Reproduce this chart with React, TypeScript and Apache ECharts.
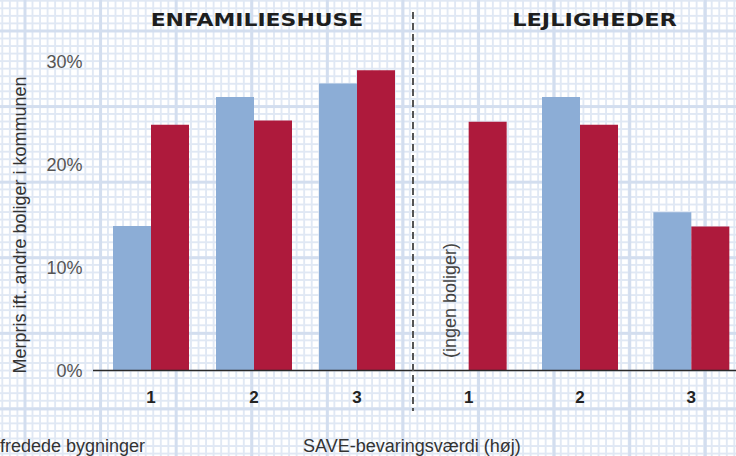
import React, { useEffect, useRef } from "react";
import * as echarts from "echarts";

const categories = ["1", "2", "3"];
const panelTitles = ["ENFAMILIESHUSE", "LEJLIGHEDER"];
const seriesNames = ["fredede bygninger", "SAVE-bevaringsværdi (høj)"];
const yTicks = [0, 10, 20, 30];
const yAxisTitle = "Merpris ift. andre boliger i kommunen";
const noHomesNote = "(ingen boliger)";

// values in percent
const houseProtected = [14.05, 26.6, 27.9];
const houseSave = [23.9, 24.3, 29.2];
const aptProtected: (number | null)[] = [null, 26.6, 15.4];
const aptSave = [24.2, 23.9, 14.0];

const BLUE = "#8cadd6";
const RED = "#ae1a3c";
const FONT = "'Liberation Sans', Arial, sans-serif";

export default function App() {
  const ref = useRef<HTMLDivElement>(null);

  useEffect(() => {
    if (!ref.current) return;
    const chart = echarts.init(ref.current, null, { renderer: "svg" });

    const yMin = yTicks[0];
    const yMax = yTicks[yTicks.length - 1];
    const gridTop = 62;
    const gridBottom = 85.5;

    const xAxisBase = {
      type: "category" as const,
      data: categories,
      axisLine: { show: false },
      axisTick: { show: false },
      axisLabel: {
        margin: 18,
        fontFamily: FONT,
        fontWeight: "bold" as const,
        fontSize: 17,
        color: "#222",
      },
      splitLine: { show: false },
    };

    const option: any = {
      animation: false,
      backgroundColor: "transparent",
      grid: [
        {
          left: 99.5,
          width: 309,
          top: gridTop,
          bottom: gridBottom,
          containLabel: false,
          outerBoundsMode: "none",
        },
        {
          left: 413,
          width: 334,
          top: gridTop,
          bottom: gridBottom,
          containLabel: false,
          outerBoundsMode: "none",
        },
      ],
      xAxis: [
        { ...xAxisBase, gridIndex: 0 },
        { ...xAxisBase, gridIndex: 1 },
      ],
      yAxis: [
        {
          type: "value",
          gridIndex: 0,
          min: yMin,
          max: yMax,
          interval: 10,
          axisLine: { show: false },
          axisTick: { show: false },
          splitLine: { show: false },
          axisLabel: {
            formatter: "{value}%",
            margin: 17,
            fontFamily: FONT,
            fontSize: 18,
            color: "#555",
          },
        },
        {
          type: "value",
          gridIndex: 1,
          min: yMin,
          max: yMax,
          interval: 10,
          show: false,
        },
      ],
      series: [
        {
          name: seriesNames[0],
          type: "bar",
          xAxisIndex: 0,
          yAxisIndex: 0,
          data: houseProtected,
          barWidth: 38,
          barGap: "0%",
          itemStyle: { color: BLUE },
        },
        {
          name: seriesNames[1],
          type: "bar",
          xAxisIndex: 0,
          yAxisIndex: 0,
          data: houseSave,
          barWidth: 38,
          barGap: "0%",
          itemStyle: { color: RED },
        },
        {
          name: seriesNames[0],
          type: "bar",
          xAxisIndex: 1,
          yAxisIndex: 1,
          data: aptProtected.map((v) =>
            v === null
              ? {
                  value: 0,
                  label: {
                    show: true,
                    formatter: noHomesNote,
                    position: "top",
                    rotate: 90,
                    align: "left",
                    verticalAlign: "middle",
                    distance: 12.5,
                    fontFamily: FONT,
                    fontSize: 18,
                    color: "#444",
                  },
                }
              : v
          ),
          barWidth: 38,
          barGap: "0%",
          itemStyle: { color: BLUE },
        },
        {
          name: seriesNames[1],
          type: "bar",
          xAxisIndex: 1,
          yAxisIndex: 1,
          data: aptSave,
          barWidth: 38,
          barGap: "0%",
          itemStyle: { color: RED },
        },
      ],
    };

    chart.setOption(option);

    const y0 = chart.convertToPixel({ yAxisIndex: 0 }, 0) as number;

    chart.setOption({
      graphic: [
        {
          type: "line",
          shape: { x1: 93, y1: y0, x2: 736, y2: y0 },
          style: { stroke: "#2a2a2a", lineWidth: 1.5 },
          z: 10,
        },
        {
          type: "line",
          shape: { x1: 413, y1: 12, x2: 413, y2: 411 },
          style: { stroke: "#555", lineWidth: 2, lineDash: [7, 4] },
          z: 10,
        },
        {
          type: "text",
          x: 257,
          y: 19.5,
          scaleX: 1.22,
          style: {
            text: panelTitles[0],
            align: "center",
            verticalAlign: "middle",
            fontFamily: "'DejaVu Sans', sans-serif",
            fontWeight: "bold",
            fontSize: 18,
            fill: "#1e1e1e",
          },
        },
        {
          type: "text",
          x: 594.5,
          y: 19.5,
          scaleX: 1.25,
          style: {
            text: panelTitles[1],
            align: "center",
            verticalAlign: "middle",
            fontFamily: "'DejaVu Sans', sans-serif",
            fontWeight: "bold",
            fontSize: 18,
            fill: "#1e1e1e",
          },
        },
        {
          type: "text",
          x: 20,
          y: 225,
          rotation: Math.PI / 2,
          style: {
            text: yAxisTitle,
            align: "center",
            verticalAlign: "middle",
            fontFamily: FONT,
            fontSize: 18,
            fill: "#333",
          },
        },
        {
          type: "text",
          x: 0,
          y: 446,
          style: {
            text: seriesNames[0],
            align: "left",
            verticalAlign: "middle",
            fontFamily: FONT,
            fontSize: 18,
            fill: "#333",
          },
        },
        {
          type: "text",
          x: 303,
          y: 446,
          style: {
            text: seriesNames[1],
            align: "left",
            verticalAlign: "middle",
            fontFamily: FONT,
            fontSize: 18,
            fill: "#333",
          },
        },
      ],
    });

    return () => chart.dispose();
  }, []);

  const minor = 7.56;
  const major = 75.6;
  const bgStyle: React.CSSProperties = {
    position: "absolute",
    left: 0,
    top: 0,
    width: 736,
    height: 456,
    overflow: "hidden",
    backgroundColor: "#ffffff",
    backgroundImage: [
      "linear-gradient(to right, #d3deef 0, #d3deef 3px, transparent 3px)",
      "linear-gradient(to bottom, #d3deef 0, #d3deef 3px, transparent 3px)",
      "linear-gradient(to right, #e0e8f4 0, #e0e8f4 2px, transparent 2px)",
      "linear-gradient(to bottom, #e0e8f4 0, #e0e8f4 2px, transparent 2px)",
    ].join(","),
    backgroundSize: `${major}px 100%, 100% ${major}px, ${minor}px 100%, 100% ${minor}px`,
    backgroundPosition: `23.5px 0, 0 29.5px, 24px 0, 0 30px`,
  };

  return <div ref={ref} style={bgStyle} />;
}
